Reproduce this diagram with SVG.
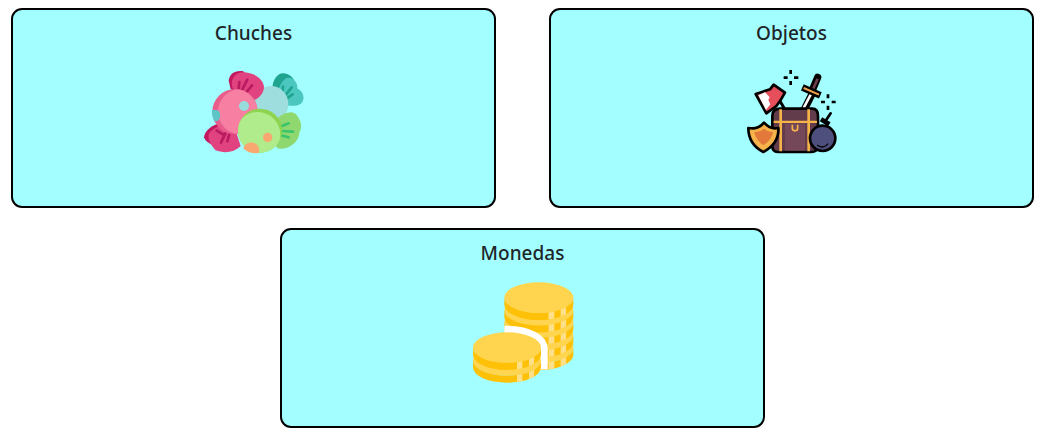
<svg xmlns="http://www.w3.org/2000/svg" width="1047" height="440" viewBox="0 0 1047 440">
<style>
.card{fill:#a3ffff;stroke:#000;stroke-width:2}
.t{font-family:"Noto Sans","Open Sans","Liberation Sans",sans-serif;font-size:19px;font-weight:500;fill:#212529;text-anchor:middle}
.o{stroke:#000;stroke-width:8;stroke-linejoin:round;stroke-linecap:round}
.s{fill:none;stroke-width:8;stroke-linecap:round}
.dash{fill:none;stroke:#000;stroke-width:8}
.top{fill:#ffd54f}
.side{fill:#ffc107}
.sq{fill:#ffe08a}
</style>
<defs>
<clipPath id="pinkClip"><circle cx="135" cy="155" r="68"/></clipPath>
<clipPath id="greenClip"><circle cx="210" cy="212" r="66"/></clipPath>
<clipPath id="colsA"><rect x="250" y="-60" width="18" height="200"/><rect x="287" y="-60" width="17" height="200"/></clipPath>
<clipPath id="colsB"><rect x="156" y="-60" width="16" height="200"/><rect x="192" y="-60" width="16" height="200"/></clipPath>
<clipPath id="whiteClip"><rect x="118" y="100" width="180" height="184"/></clipPath>
<path id="sideA" d="M118 0A103 46 0 0 0 325 0V21A103 46 0 0 1 118 21Z"/>
<path id="sideB" d="M24 0A102 46 0 0 0 228 0V21A102 46 0 0 1 24 21Z"/>
<g id="coinA">
<ellipse class="top" cx="221.500" cy="0" rx="103.500" ry="46"/>
<use href="#sideA" class="side"/>
<g clip-path="url(#colsA)"><use href="#sideA" class="sq"/></g>
</g>
<g id="coinB">
<ellipse class="top" cx="126" cy="0" rx="102" ry="46"/>
<use href="#sideB" class="side"/>
<g clip-path="url(#colsB)"><use href="#sideB" class="sq"/></g>
</g>
</defs>
<rect width="1047" height="440" fill="#fff"/>
<g id="chuches">
<rect class="card" x="12" y="9" width="483" height="198" rx="10"/>
<text class="t" x="253.500" y="40">Chuches</text>
<g transform="translate(190 60) scale(.3333)">
<path fill="#1fa58f" d="M247 85C248 60 262 38 282 40C296 42 306 50 312 60L295 115L255 110Z"/>
<path fill="#4cc7bf" d="M262 125C258 100 268 70 288 55C308 48 324 68 322 85C340 95 346 115 336 128C320 142 290 140 262 125Z"/>
<path class="s" stroke="#1fa58f" d="M279 80L277 100M305 82L287 105M308 103L291 115"/>
<ellipse cx="243" cy="132" rx="52" ry="54" fill="#9fdede"/>
<path fill="#c2185f" d="M42 232C44 214 60 200 82 192L122 220L108 262C85 262 50 255 42 232Z"/>
<path fill="#e0437f" d="M56 222C72 198 105 188 135 205L152 258C130 280 100 280 76 270C66 258 52 242 56 222Z"/>
<path class="s" stroke="#b81b60" d="M80 212L104 226M106 220L93 248M118 224L112 244"/>
<path fill="#c2185f" d="M116 62C118 42 135 30 160 34L190 70L140 95L122 88Z"/>
<path fill="#e0437f" d="M128 85C120 62 132 40 156 37C190 36 218 55 222 80C222 100 205 118 185 122Z"/>
<path class="s" stroke="#b81b60" d="M148 66L146 87M172 59L157 88M186 76L170 96"/>
<circle cx="135" cy="155" r="68" fill="#e85d8c"/>
<circle cx="152" cy="155" r="68" fill="#f77fa2" clip-path="url(#pinkClip)"/>
<path fill="#5cc5c5" d="M66 150H80C94 152 94 180 80 184H74C68 172 65 162 66 150Z"/>
<circle cx="162" cy="138" r="15" fill="#98dcdc"/>
<path fill="#98dcdc" d="M152 190C160 172 182 170 194 182C190 198 172 213 156 217C150 208 150 198 152 190Z"/>
<path fill="#8fd870" d="M262 175C285 155 312 150 322 168C336 185 336 205 328 218C328 245 295 272 262 265L240 215Z"/>
<path class="s" stroke="#3cc46a" d="M276 198L296 190M276 213L309 215M276 227L296 232"/>
<circle cx="210" cy="212" r="66" fill="#8fd44f"/>
<circle cx="203" cy="224" r="68" fill="#b0ec8c" clip-path="url(#greenClip)"/>
<circle cx="233" cy="232" r="14" fill="#f9a86f"/>
<path fill="#f9a86f" d="M160 265C165 245 197 240 206 262C208 270 208 275 206 279C190 282 172 278 160 265Z"/>
</g>
</g>
<g id="objetos">
<rect class="card" x="550" y="9" width="483" height="198" rx="10"/>
<text class="t" x="791.500" y="40">Objetos</text>
<g transform="translate(735 60) scale(.3333)">
<path class="dash" d="M167 30V42M167 63V75M146 53H158M177 53H190M279 103V115M279 137V150M258 126H270M290 126H302"/>
<path stroke="#000" stroke-width="22" d="M208 148L232 100"/>
<path stroke="#fff" stroke-width="8" d="M206 144L228 102"/>
<path stroke="#000" stroke-width="22" stroke-linecap="round" d="M233 88L248 52"/>
<path stroke="#6b4050" stroke-width="8" d="M234 88L248 56"/>
<path stroke="#000" stroke-width="20" d="M202 82L256 106"/>
<path stroke="#f0a04a" stroke-width="6" d="M206 84L252 104"/>
<path stroke="#000" stroke-width="9" d="M130 115L152 152"/>
<path fill="#e54e5b" class="o" d="M62 102L94 160L124 138L136 122L150 98L116 74L105 88Z"/>
<path fill="#fff" d="M70 106L93 150L106 133L100 120L104 112L90 97Z"/>
<path class="o" fill="#623c4a" d="M112 168C112 152 122 146 135 146H232C243 146 249 155 249 168V258C249 270 240 276 230 276H128C118 276 112 270 112 258Z"/>
<path fill="#744858" d="M150 190H210V272H150Z"/>
<path fill="#f5b34a" d="M133 148H141V274H133ZM217 148H225V274H217ZM116 182H246V189H116Z"/>
<path fill="none" stroke="#f5b34a" stroke-width="5" d="M172 194V205C172 215 188 215 188 205V194"/>
<path class="o" fill="#f5b34a" d="M40 204C58 208 75 202 87 188C100 202 115 208 130 204C132 235 115 260 85 276C58 262 40 238 40 204Z"/>
<path fill="#e2793a" d="M58 216C70 216 80 212 87 206C94 212 102 216 114 216C110 234 100 246 85 256C72 246 62 234 58 216Z"/>
<path class="o" fill="none" d="M270 185L287 160"/>
<path stroke="#000" stroke-width="14" d="M258 178L283 193"/>
<circle class="o" cx="263" cy="235" r="38" fill="#4f4f7d"/>
<path fill="none" stroke="#000" stroke-width="4" stroke-linecap="round" d="M248 256C258 264 272 262 278 252"/>
</g>
</g>
<g id="monedas">
<rect class="card" x="281" y="229" width="483" height="198" rx="10"/>
<text class="t" x="522.500" y="260">Monedas</text>
<g transform="translate(465 275) scale(.3333)">
<use href="#coinA" y="218"/>
<use href="#coinA" y="180"/>
<use href="#coinA" y="142"/>
<use href="#coinA" y="105"/>
<use href="#coinA" y="68"/>
<g clip-path="url(#whiteClip)"><ellipse cx="125" cy="218" rx="123" ry="66" fill="#fff"/><rect x="228" y="218" width="20" height="66" fill="#fff"/></g>
<path fill="#fff" d="M118 218H228V284H118Z"/>
<use href="#coinB" y="256"/>
<use href="#coinB" y="218"/>
</g>
</g>
</svg>
